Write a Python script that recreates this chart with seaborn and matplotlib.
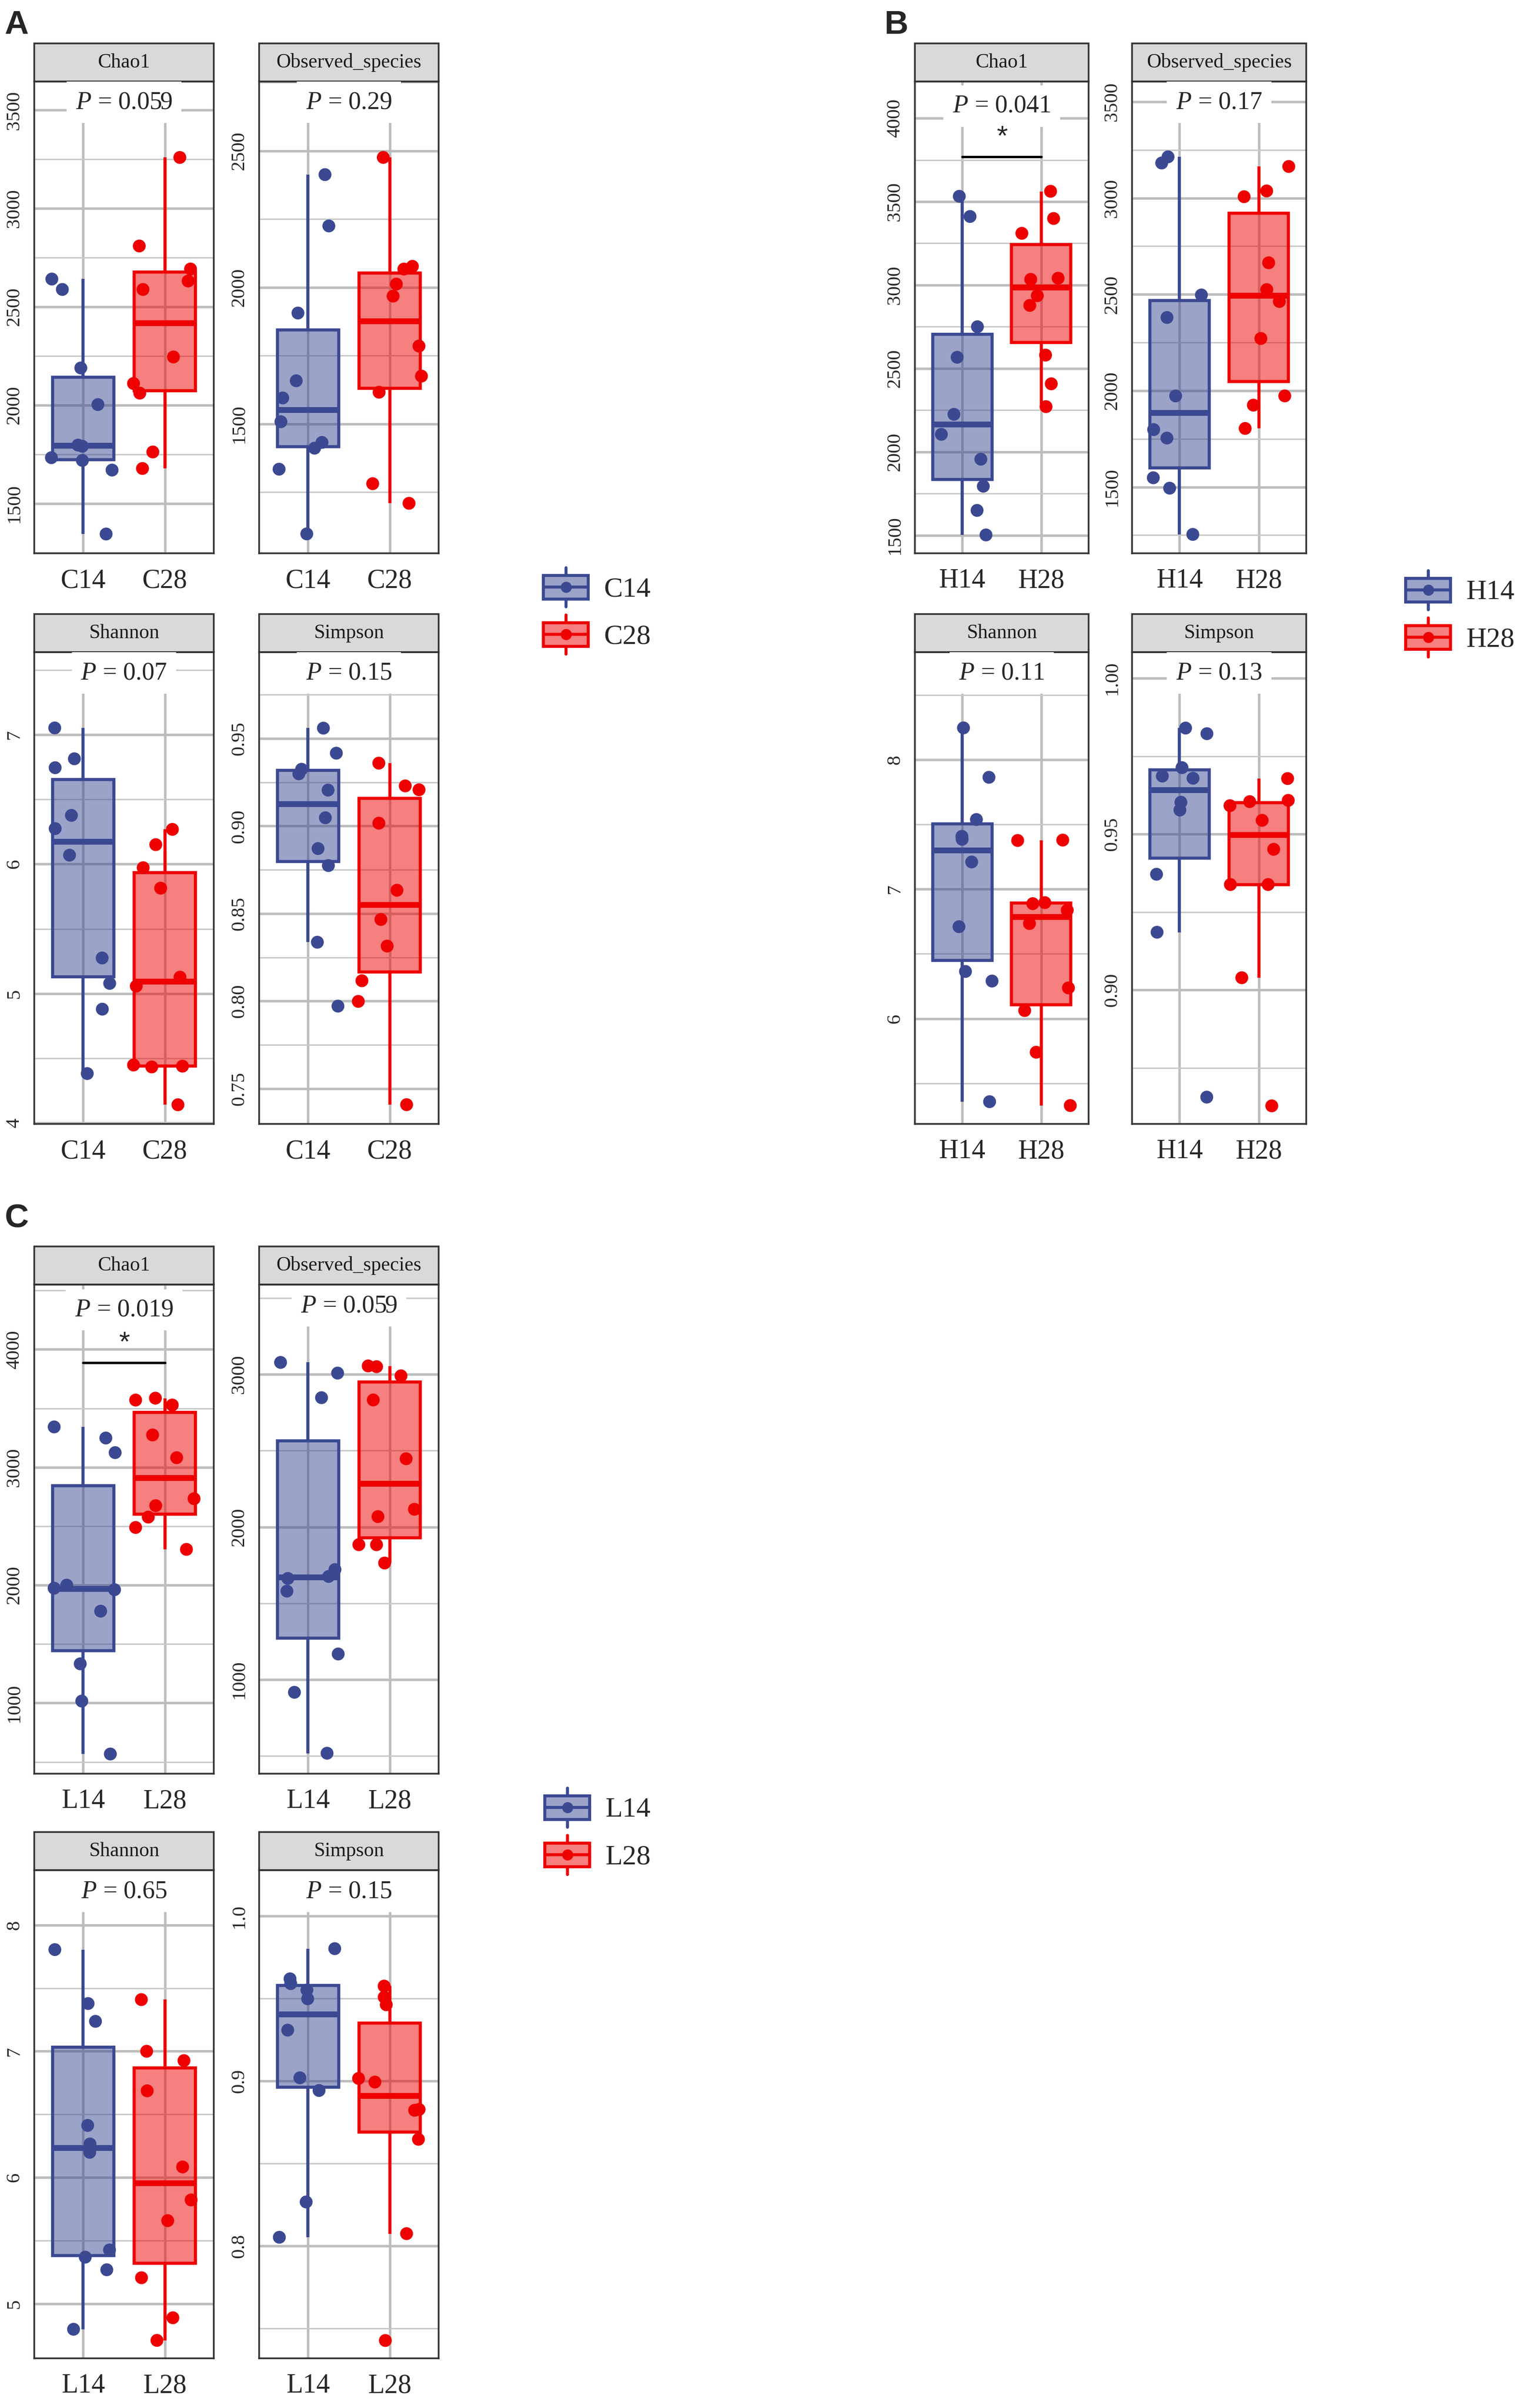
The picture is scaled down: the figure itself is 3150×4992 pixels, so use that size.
import numpy as np
import pandas as pd
import seaborn as sns
import matplotlib.pyplot as plt
import matplotlib.patches as mpatches
from matplotlib.lines import Line2D
from matplotlib.legend_handler import HandlerBase
from matplotlib.ticker import MultipleLocator, FormatStrFormatter
from matplotlib.colors import to_rgba

metrics = ["Chao1", "Observed_species", "Shannon", "Simpson"]
colors = ["#3B4992", "#EE0000"]

# ---- panel A: C14 vs C28
groups_a = ["C14", "C28"]
chao1_c14 = [2588, 2641, 2189, 2003, 1797, 1791, 1733, 1719, 1670, 1345]
chao1_c28 = [3259, 2809, 2692, 2631, 2588, 2245, 2110, 2061, 1762, 1678]
obs_c14 = [2413, 2225, 1906, 1658, 1595, 1508, 1432, 1411, 1334, 1097]
obs_c28 = [2476, 2077, 2067, 2012, 1968, 1785, 1675, 1616, 1281, 1209]
shannon_c14 = [7.051, 6.813, 6.744, 6.376, 6.274, 6.069, 5.275, 5.079, 4.880, 4.383]
shannon_c28 = [6.268, 6.150, 5.972, 5.814, 5.127, 5.058, 4.449, 4.440, 4.434, 4.142]
simpson_c14 = [0.9559, 0.9416, 0.9324, 0.9298, 0.9205, 0.9047, 0.8871, 0.8774, 0.8336, 0.7971]
simpson_c28 = [0.9359, 0.9229, 0.9207, 0.9016, 0.8633, 0.8466, 0.8314, 0.8116, 0.7998, 0.7408]
p_a = ["0.059", "0.29", "0.07", "0.15"]

# ---- panel B: H14 vs H28
groups_b = ["H14", "H28"]
chao1_h14 = [3532, 3411, 2750, 2567, 2225, 2105, 1956, 1794, 1649, 1502]
chao1_h28 = [3562, 3399, 3310, 3041, 3034, 2936, 2878, 2580, 2408, 2271]
obs_h14 = [3214, 3182, 2497, 2380, 1973, 1798, 1754, 1548, 1494, 1254]
obs_h28 = [3164, 3037, 3007, 2664, 2525, 2463, 2271, 1973, 1925, 1804]
shannon_h14 = [8.246, 7.864, 7.538, 7.408, 7.385, 7.210, 6.710, 6.364, 6.290, 5.358]
shannon_h28 = [7.379, 7.376, 6.896, 6.888, 6.837, 6.734, 6.237, 6.062, 5.740, 5.328]
simpson_h14 = [0.9840, 0.9822, 0.9713, 0.9686, 0.9679, 0.9602, 0.9577, 0.9371, 0.9185, 0.8656]
simpson_h28 = [0.9678, 0.9608, 0.9604, 0.9591, 0.9544, 0.9451, 0.9338, 0.9338, 0.9039, 0.8628]
p_b = ["0.041", "0.17", "0.11", "0.13"]

# ---- panel C: L14 vs L28
groups_c = ["L14", "L28"]
chao1_l14 = [3342, 3248, 3124, 2000, 1974, 1961, 1779, 1332, 1016, 567]
chao1_l28 = [3586, 3570, 3528, 3274, 3081, 2733, 2674, 2577, 2489, 2303]
obs_l14 = [3078, 3008, 2847, 1721, 1676, 1663, 1580, 1168, 917, 518]
obs_l28 = [3055, 3050, 2990, 2832, 2447, 2116, 2068, 1884, 1884, 1764]
shannon_l14 = [7.805, 7.378, 7.237, 6.413, 6.266, 6.200, 5.427, 5.370, 5.270, 4.799]
shannon_l28 = [7.409, 7.000, 6.926, 6.687, 6.084, 5.823, 5.659, 5.207, 4.890, 4.711]
simpson_l14 = [0.9803, 0.9620, 0.9591, 0.9552, 0.9499, 0.9309, 0.9020, 0.8943, 0.8267, 0.8053]
simpson_l28 = [0.9576, 0.9509, 0.9463, 0.9016, 0.8994, 0.8828, 0.8823, 0.8647, 0.8075, 0.7427]
p_c = ["0.019", "0.059", "0.65", "0.15"]

# significance bars (Chao1 of B and C)
bracket_b = 3768
bracket_c = 3886

sns.set_style("white")
plt.rcParams["font.family"] = ["Liberation Serif", "DejaVu Serif"]
plt.rcParams["mathtext.fontset"] = "custom"
plt.rcParams["mathtext.rm"] = "Liberation Serif"
plt.rcParams["mathtext.it"] = "Liberation Serif:italic"

np.random.seed(11)

W, H = 3150, 4992
fig = plt.figure(figsize=(W / 300, H / 300), dpi=300)
STRIP = 79


class BoxKeyHandler(HandlerBase):
    def create_artists(self, legend, orig_handle, xdescent, ydescent,
                       width, height, fontsize, trans):
        c = orig_handle.get_edgecolor()
        x0, y0 = -xdescent, -ydescent
        bh = height * 0.6
        by = y0 + (height - bh) / 2
        cx, cy = x0 + width / 2, y0 + height / 2
        box = mpatches.Rectangle((x0, by), width, bh, facecolor=to_rgba(c, 0.5),
                                 edgecolor=c, lw=1.5, transform=trans)
        wt = Line2D([cx, cx], [by + bh, y0 + height], color=c, lw=1.5,
                    solid_capstyle="round", transform=trans)
        wb = Line2D([cx, cx], [y0, by], color=c, lw=1.5,
                    solid_capstyle="round", transform=trans)
        med = Line2D([x0, x0 + width], [cy, cy], color=c, lw=1.5, transform=trans)
        dot = Line2D([cx], [cy], marker="o", ms=5.5, color=c, mec="none",
                     transform=trans)
        return [box, wt, wb, med, dot]


def draw_panel(x0, x1, ytop, ybot, metric, groups, lo, hi, ylim, step, fmt,
               ptxt, bracket=None):
    ax = fig.add_axes([x0 / W, 1 - ybot / H, (x1 - x0) / W, (ybot - ytop) / H])
    df = pd.DataFrame({"group": [groups[0]] * len(lo) + [groups[1]] * len(hi),
                       "value": lo + hi})
    for g, c in zip(groups, colors):
        sub = df[df["group"] == g]
        sns.boxplot(data=sub, x="group", y="value", order=groups, ax=ax,
                    width=0.75, whis=1.5, showfliers=False, showcaps=False,
                    color=c, linecolor=c, linewidth=1.55,
                    boxprops={"facecolor": to_rgba(c, 0.5)},
                    medianprops={"linewidth": 2.9})
    sns.stripplot(data=df, x="group", y="value", hue="group", order=groups,
                  hue_order=groups, palette=colors, jitter=0.4, size=6.4,
                  linewidth=0, legend=False, ax=ax, zorder=3)
    ax.set_xlim(-0.6, 1.6)
    ax.set_ylim(*ylim)
    ax.set_xlabel("")
    ax.set_ylabel("")
    ax.yaxis.set_major_locator(MultipleLocator(step))
    ax.yaxis.set_minor_locator(MultipleLocator(step / 2))
    ax.yaxis.set_major_formatter(FormatStrFormatter(fmt))
    ax.set_axisbelow(True)
    ax.grid(which="major", axis="both", color="#BDBDBD", lw=1.25)
    ax.grid(which="minor", axis="y", color="#C8C8C8", lw=0.7)
    for s in ax.spines.values():
        s.set_color("#333333")
        s.set_linewidth(0.85)
    ax.tick_params(which="minor", length=0)
    ax.tick_params(axis="both", which="major", length=2.5, width=0.8,
                   color="#333333")
    ax.tick_params(axis="x", labelsize=13.5, pad=5)
    ax.tick_params(axis="y", labelsize=9.7, pad=3)
    for lab in ax.get_yticklabels():
        lab.set_rotation(90)
        lab.set_va("center")

    sh = STRIP / (ybot - ytop)
    ax.add_patch(mpatches.Rectangle((0, 1), 1, sh, transform=ax.transAxes,
                                    clip_on=False, facecolor="#D9D9D9",
                                    edgecolor="#333333", lw=0.85))
    ax.text(0.5, 1 + sh / 2, metric, transform=ax.transAxes, ha="center",
            va="center", fontsize=10, color="#1A1A1A")

    py = 0.948 if bracket is not None else 0.956
    ax.text(0.5, py, rf"$\mathit{{P}}$ = {ptxt}", transform=ax.transAxes,
            ha="center", va="center", fontsize=12.5, zorder=4,
            bbox=dict(facecolor="white", edgecolor="none", pad=4.5))
    if bracket is not None:
        ax.plot([0, 1], [bracket, bracket], color="black", lw=1.2, zorder=4)
        ax.annotate("*", xy=(0.5, bracket), xytext=(0, 9.5),
                    textcoords="offset points", ha="center", va="center",
                    fontsize=14, family="Liberation Sans", zorder=4)
    return ax


def draw_block(cols, rows, groups, series, ylims, steps, fmts, pvals, brackets):
    k = 0
    for r in range(2):
        for cidx in range(2):
            x0, x1 = cols[cidx]
            ytop, ybot = rows[r]
            lo, hi = series[k]
            draw_panel(x0, x1, ytop, ybot, metrics[k], groups, lo, hi,
                       ylims[k], steps[k], fmts[k], pvals[k], brackets[k])
            k += 1


def add_legend(groups, x, y):
    handles = [mpatches.Patch(facecolor=c, edgecolor=c, label=g)
               for g, c in zip(groups, colors)]
    fig.legend(handles=handles, loc="upper left",
               bbox_to_anchor=(x / W, 1 - y / H), frameon=False, fontsize=14,
               handlelength=1.6, handleheight=1.75, labelspacing=0.3,
               handletextpad=0.55, borderpad=0, borderaxespad=0,
               handler_map={mpatches.Patch: BoxKeyHandler()})


cols_ac = [(71, 443), (537, 909)]
cols_b = [(1896, 2256), (2346, 2707)]
rows_ab = [(169, 1147), (1352, 2330)]
rows_c = [(2663, 3677), (3877, 4889)]

draw_block(cols_ac, rows_ab, groups_a,
           [(chao1_c14, chao1_c28), (obs_c14, obs_c28),
            (shannon_c14, shannon_c28), (simpson_c14, simpson_c28)],
           [(1247, 3645), (1026, 2754), (3.994, 7.636), (0.7298, 0.9993)],
           [500, 500, 1, 0.05], ["%d", "%d", "%d", "%.2f"], p_a,
           [None, None, None, None])

draw_block(cols_b, rows_ab, groups_b,
           [(chao1_h14, chao1_h28), (obs_h14, obs_h28),
            (shannon_h14, shannon_h28), (simpson_h14, simpson_h28)],
           [(1392, 4220), (1156, 3605), (5.186, 8.831), (0.857, 1.00835)],
           [500, 500, 1, 0.05], ["%d", "%d", "%d", "%.2f"], p_b,
           [bracket_b, None, None, None])

draw_block(cols_ac, rows_c, groups_c,
           [(chao1_l14, chao1_l28), (obs_l14, obs_l28),
            (shannon_l14, shannon_l28), (simpson_l14, simpson_l28)],
           [(400, 4550), (384, 3588), (4.569, 8.434), (0.7319, 1.0279)],
           [1000, 1000, 1, 0.1], ["%d", "%d", "%d", "%.1f"], p_c,
           [bracket_c, None, None, None])

add_legend(groups_a, 1126, 1177)
add_legend(groups_b, 2913, 1183)
add_legend(groups_c, 1129, 3707)

for letter, x, y in [("A", 9, 20), ("B", 1832, 20), ("C", 9, 2494)]:
    fig.text(x / W, 1 - y / H, letter, fontsize=16.5, fontweight="bold",
             family="Liberation Sans", va="top", ha="left")

fig.savefig("out.png", dpi=300)
plt.close(fig)
